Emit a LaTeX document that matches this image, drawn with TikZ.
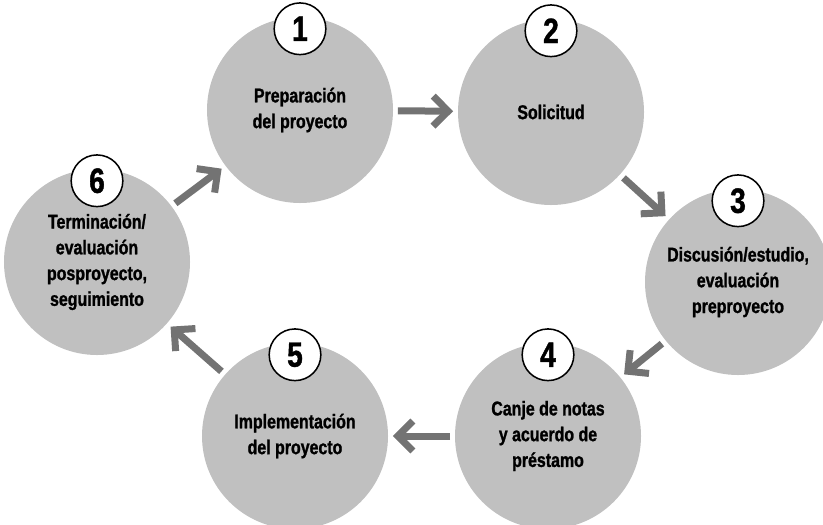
\documentclass[tikz,border=0pt]{standalone}
\usepackage{fontspec}
\setmainfont{Liberation Sans}[FakeStretch=0.8,BoldFeatures={FakeBold=1.2}]
\usepackage{tikz}
\usetikzlibrary{arrows.meta,shapes,positioning}
\definecolor{discgray}{RGB}{192,192,192}
\definecolor{arrowgray}{RGB}{115,115,115}
\tikzset{stage/.style={circle,fill=discgray,minimum size=5.58cm,inner sep=0pt,align=center,
           font=\bfseries\fontsize{17}{22}\selectfont},
         badge/.style={circle,draw=black,line width=1.3pt,fill=white,minimum size=1.55cm,inner sep=0pt,
           font=\bfseries\fontsize{30}{30}\selectfont},
         flow/.style={arrowgray,line width=2.1mm,shorten <=4pt,shorten >=4pt,
           -{Straight Barb[length=4.5mm,width=9mm]}}}

\begin{document}
\begin{tikzpicture}[x=0.03cm,y=-0.03cm]
\useasboundingbox (0,0) rectangle (823,524);

\node[stage] (c1) at (300,110) {Preparación\\del proyecto};
\node[stage] (c2) at (551,112) {Solicitud};
\node[stage] (c3) at (738,282) {Discusión/estudio,\\evaluación\\preproyecto};
\node[stage] (c4) at (548,436) {Canje de notas\\y acuerdo de\\préstamo};
\node[stage] (c5) at (295,436) {Implementación\\del proyecto};
\node[stage] (c6) at (97,262) {Terminación/\\evaluación\\posproyecto,\\seguimiento};

\node[badge] (b1) at ([yshift=-0.36cm]c1.north) {1};
\node[badge] (b2) at ([yshift=-0.36cm]c2.north) {2};
\node[badge] (b3) at ([yshift=-0.36cm]c3.north) {3};
\node[badge] (b4) at ([yshift=-0.36cm]c4.north) {4};
\node[badge] (b5) at ([yshift=-0.36cm]c5.north) {5};
\node[badge] (b6) at ([yshift=-0.36cm]c6.north) {6};

\draw[flow] (c1) -- (c2);
\draw[flow] (c2) -- (c3);
\draw[flow] (c3) -- (c4);
\draw[flow] (c4) -- (c5);
\draw[flow] (c5) -- (c6);
\draw[flow] (c6) -- (c1);
\end{tikzpicture}
\end{document}
